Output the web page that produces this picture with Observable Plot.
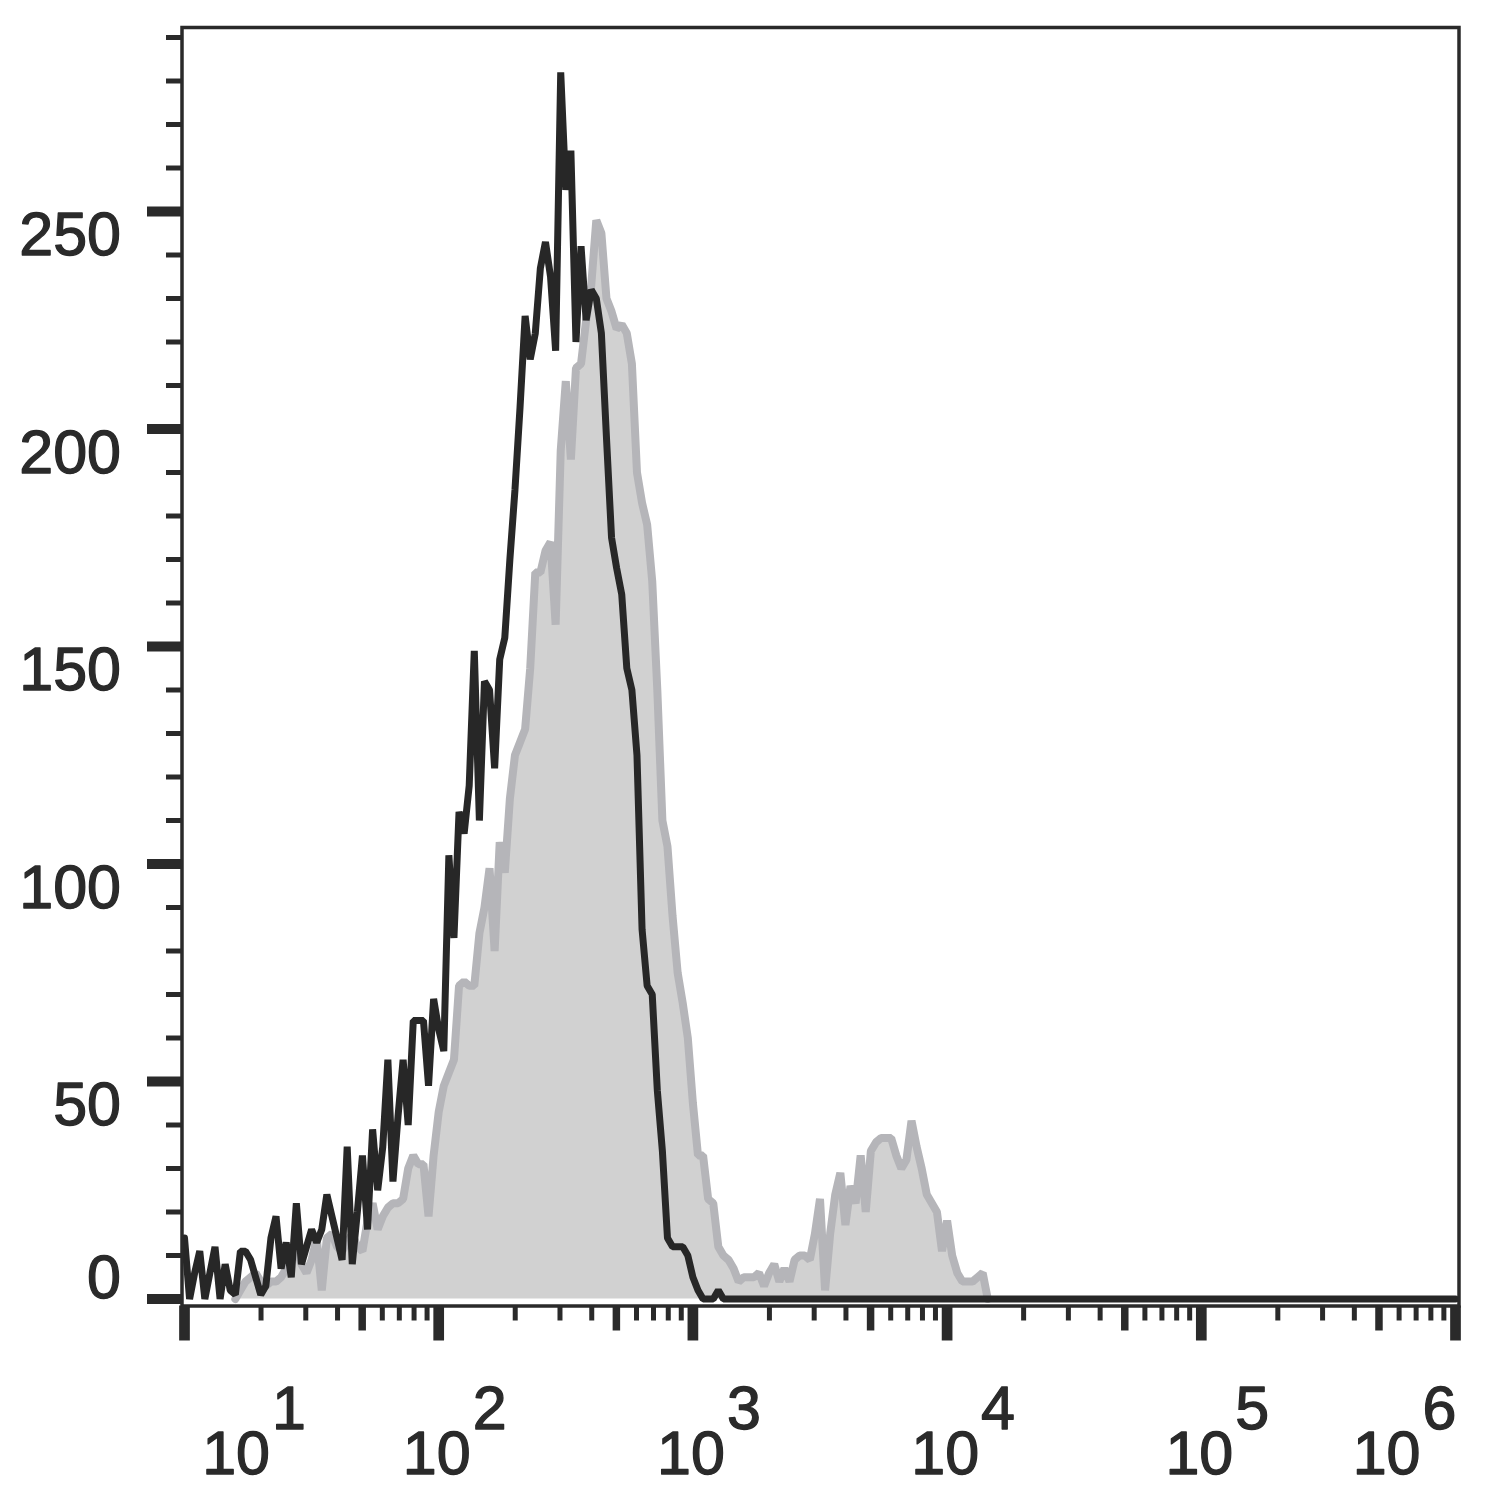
<!DOCTYPE html>
<html>
<head>
<meta charset="utf-8">
<script src="https://cdn.jsdelivr.net/npm/d3@7"></script>
<script src="https://cdn.jsdelivr.net/npm/@observablehq/plot@0.6"></script>
<style>
  html, body { margin: 0; padding: 0; background: #ffffff; }
</style>
</head>
<body>
<div id="chart"></div>
<script>
// ---- data ----
const binStart = 1;      // log10 of the first channel
const binStep = 0.02;    // log10 width of one channel

// dark histogram (outline only), channels 0..106, zero afterwards up to 10^6
const blackCounts = [
  14, 0, 6, 11, 0, 6, 12, 0, 8, 2,
  1, 11, 11, 9, 5, 1, 3, 14, 19, 7,
  13, 5, 22, 8, 12, 16, 13, 16, 24, 19,
  14, 9, 35, 8, 20, 33, 16, 39, 25, 35,
  55, 27, 42, 55, 40, 64, 64, 64, 49, 69,
  62, 57, 102, 83, 112, 107, 118, 149, 110, 142,
  140, 122, 147, 152, 170, 186, 205, 226, 216, 222,
  237, 243, 235, 218, 282, 255, 264, 220, 242, 225,
  232, 230, 222, 198, 175, 168, 162, 145, 140, 125,
  85, 72, 70, 48, 34, 14, 12, 12, 12, 10,
  5, 2, 0, 0, 0, 2, 0
];
const blackLastX = 1e6;   // flat at zero to the right edge
const blackLastY = 0;

// grey filled histogram, channels 10..158
const grayFirstBin = 10;
const grayCounts = [
  0, 2, 4, 5, 6, 4, 3, 4, 4, 5,
  7, 9, 12, 8, 6, 9, 14, 2, 14, 15,
  12, 11, 13, 15, 12, 11, 18, 22, 16, 19,
  21, 22, 22, 23, 30, 33, 31, 31, 19, 33,
  43, 49, 52, 55, 72, 73, 72, 72, 84, 90,
  99, 80, 105, 98, 115, 125, 128, 131, 145, 167,
  167, 172, 174, 155, 195, 211, 193, 214, 215, 225,
  233, 248, 245, 230, 227, 223, 224, 222, 215, 190,
  183, 178, 165, 140, 110, 104, 88, 75, 68, 60,
  45, 33, 33, 23, 22, 12, 10, 9, 7, 4,
  5, 5, 5, 6, 3, 6, 8, 4, 7, 4,
  9, 10, 10, 9, 15, 23, 2, 15, 24, 29,
  17, 26, 22, 33, 20, 34, 36, 37, 37, 37,
  33, 30, 32, 41, 35, 30, 24, 22, 20, 11,
  18, 10, 6, 4, 4, 4, 5, 6, 0
];

// axes
const yMajorTicks = [0, 50, 100, 150, 200, 250];
const yTickLabels = ["0", "50", "100", "150", "200", "250"];
const yMinorStep = 10;
const yMinorMax = 290;
const xMajorTicks = [1e1, 1e2, 1e3, 1e4, 1e5, 1e6];
const xLabelBase = "10";
const xExponents = ["1", "2", "3", "4", "5", "6"];
const xMinorMultipliers = [2, 3, 4, 6, 7, 8, 9];
const xMidMultiplier = 5;

// ---- build tables ----
const black = blackCounts.map((c, i) => ({x: 10 ** (binStart + binStep * i), y: c}));
black.push({x: blackLastX, y: blackLastY});
const gray = grayCounts.map((c, i) => ({x: 10 ** (binStart + binStep * (grayFirstBin + i)), y: c}));

const decades = xMajorTicks.slice(0, -1);
const xMinor = decades.flatMap(d => xMinorMultipliers.map(m => m * d));
const xMid = decades.map(d => xMidMultiplier * d);
const yMinor = d3.range(yMinorStep, yMinorMax + 1, yMinorStep).filter(v => !yMajorTicks.includes(v));

const ink = "#2a2a2a";
const fs = 61;
const ts = 1.3; // slight text stroke to match the heavier glyphs
const labelFor = d => yTickLabels[yMajorTicks.indexOf(d)];
const expFor = d => xExponents[xMajorTicks.indexOf(d)];
const txt = {frameAnchor: "bottom", lineAnchor: "bottom", fontSize: fs, fill: ink, stroke: ink, strokeWidth: ts};

const chart = Plot.plot({
  width: 1489,
  height: 1488,
  marginLeft: 181.5,
  marginRight: 30.5,
  marginTop: 27,
  marginBottom: 182.5,
  style: {background: "#ffffff", color: ink, fontFamily: "'Liberation Sans', Arial, sans-serif"},
  x: {type: "log", domain: [1e1, 1e6], range: [184, 1455]},
  y: {domain: [0, 250], range: [1298.5, 211]},
  marks: [
    Plot.areaY(gray, {x: "x", y: "y", fill: "#d1d1d1"}),
    Plot.line(gray, {x: "x", y: "y", stroke: "#b5b5b9", strokeWidth: 8, strokeLinejoin: "miter"}),
    Plot.line(black, {x: "x", y: "y", stroke: "#272727", strokeWidth: 7, strokeLinejoin: "miter"}),
    Plot.frame({stroke: ink, strokeWidth: 3.5}),
    // y ticks
    Plot.axisY(yMinor, {anchor: "left", tickSize: 15.5, strokeWidth: 5, stroke: ink, fill: "none", label: null}),
    Plot.axisY(yMajorTicks, {anchor: "left", tickSize: 34.5, strokeWidth: 10, stroke: ink, fill: "none", label: null}),
    Plot.axisY(yMajorTicks.slice(1), {anchor: "left", tickSize: 0, tickPadding: 61, fontSize: fs, dy: 24, fill: ink, textStroke: ink, textStrokeWidth: ts, label: null, tickFormat: labelFor}),
    Plot.axisY(yMajorTicks.slice(0, 1), {anchor: "left", tickSize: 0, tickPadding: 61, fontSize: fs, dy: -21, fill: ink, textStroke: ink, textStrokeWidth: ts, label: null, tickFormat: labelFor}),
    // x ticks
    Plot.axisX(xMinor, {anchor: "bottom", tickSize: 15, strokeWidth: 5, stroke: ink, fill: "none", label: null}),
    Plot.axisX(xMid, {anchor: "bottom", tickSize: 25, strokeWidth: 7.5, stroke: ink, fill: "none", label: null}),
    Plot.axisX(xMajorTicks, {anchor: "bottom", tickSize: 35, strokeWidth: 10.7, stroke: ink, fill: "none", label: null}),
    // x labels: 10 with raised exponent
    Plot.text(xMajorTicks.slice(1, 5), {...txt, x: d => d, text: () => xLabelBase, textAnchor: "end", dx: 32, dy: 167.5}),
    Plot.text(xMajorTicks.slice(1, 5), {...txt, x: d => d, text: expFor, textAnchor: "start", dx: 34, dy: 122.5}),
    Plot.text(xMajorTicks.slice(0, 1), {...txt, x: d => d, text: () => xLabelBase, textAnchor: "end", dx: 85.5, dy: 167.5}),
    Plot.text(xMajorTicks.slice(0, 1), {...txt, x: d => d, text: expFor, textAnchor: "start", dx: 87.5, dy: 122.5}),
    Plot.text(xMajorTicks.slice(5), {...txt, x: d => d, text: () => xLabelBase, textAnchor: "end", dx: -35, dy: 167.5}),
    Plot.text(xMajorTicks.slice(5), {...txt, x: d => d, text: expFor, textAnchor: "start", dx: -33, dy: 122.5})
  ]
});
document.getElementById("chart").appendChild(chart);
</script>
</body>
</html>
